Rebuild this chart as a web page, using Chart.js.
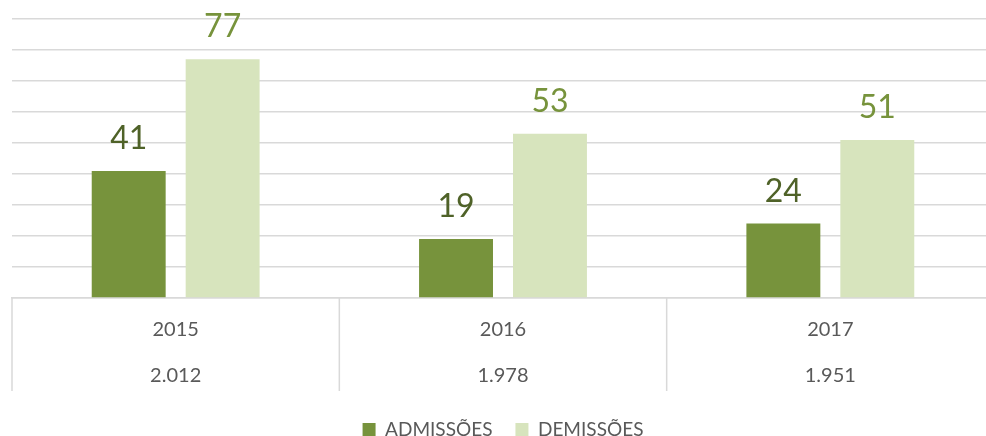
<!DOCTYPE html>
<html>
<head>
<meta charset="utf-8">
<script src="https://cdn.jsdelivr.net/npm/chart.js@4/dist/chart.umd.min.js"></script>
<style>
  html, body { margin: 0; padding: 0; background: #fff; overflow: hidden; }
  #wrap { width: 1015px; height: 436px; }
</style>
</head>
<body>
<div id="wrap"><canvas id="chart" width="1015" height="436"></canvas></div>
<script>
// Chart data
const categories = ['2015', '2016', '2017'];
const totals = ['2.012', '1.978', '1.951'];
const admissoes = [41, 19, 24];
const demissoes = [77, 53, 51];
const seriesNames = ['ADMISSÕES', 'DEMISSÕES'];

const FONT = 'Lato, "Open Sans", sans-serif';

// Draws the value above each bar
const valueLabels = {
    id: 'valueLabels',
    afterDatasetsDraw(chart) {
        const ctx = chart.ctx;
        const colors = ['#4F6228', '#77933C'];
        ctx.save();
        ctx.font = '32px ' + FONT;
        ctx.textAlign = 'center';
        ctx.textBaseline = 'alphabetic';
        chart.data.datasets.forEach(function (ds, i) {
            const meta = chart.getDatasetMeta(i);
            ctx.fillStyle = colors[i];
            meta.data.forEach(function (bar, j) {
                ctx.fillText(ds.data[j], bar.x, bar.y - 22);
            });
        });
        ctx.restore();
    }
};

// Vertical separators of the category table under the axis
const tableLines = {
    id: 'tableLines',
    afterDraw(chart) {
        const x = chart.scales.x;
        const ctx = chart.ctx;
        const half = (x.getPixelForValue(1) - x.getPixelForValue(0)) / 2;
        ctx.save();
        ctx.strokeStyle = '#D9D9D9';
        ctx.lineWidth = 1.5;
        ctx.beginPath();
        for (let i = 0; i <= categories.length; i++) {
            const px = x.getPixelForValue(i) - half;
            ctx.moveTo(px, x.top);
            ctx.lineTo(px, x.bottom - 6);
        }
        ctx.stroke();
        ctx.restore();
    }
};

const ctx = document.getElementById('chart').getContext('2d');
new Chart(ctx, {
    type: 'bar',
    data: {
        labels: categories.map((c, i) => [c, totals[i]]),
        datasets: [{
            label: seriesNames[0],
            data: admissoes,
            backgroundColor: '#77933C',
            categoryPercentage: 0.574,
            barPercentage: 0.787
        }, {
            label: seriesNames[1],
            data: demissoes,
            backgroundColor: '#D7E4BD',
            categoryPercentage: 0.574,
            barPercentage: 0.787
        }]
    },
    options: {
        responsive: false,
        animation: false,
        layout: { padding: { left: 12, right: 21, top: 19, bottom: -13 } },
        plugins: {
            legend: {
                position: 'bottom',
                labels: {
                    boxWidth: 13,
                    boxHeight: 13,
                    padding: 23,
                    color: '#595959',
                    font: { family: FONT, size: 19 }
                }
            },
            tooltip: { enabled: false }
        },
        scales: {
            x: {
                grid: { display: false, drawTicks: true, tickLength: 11 },
                border: { display: true, color: '#D9D9D9', width: 1.5 },
                ticks: {
                    padding: -2,
                    color: '#595959',
                    font: { family: FONT, size: 20, lineHeight: 2.3 }
                }
            },
            y: {
                min: 0,
                max: 90,
                ticks: { display: false, stepSize: 10 },
                border: { display: false },
                grid: { color: '#D9D9D9', lineWidth: 1.5, drawTicks: false }
            }
        }
    },
    plugins: [valueLabels, tableLines]
});
</script>
</body>
</html>
